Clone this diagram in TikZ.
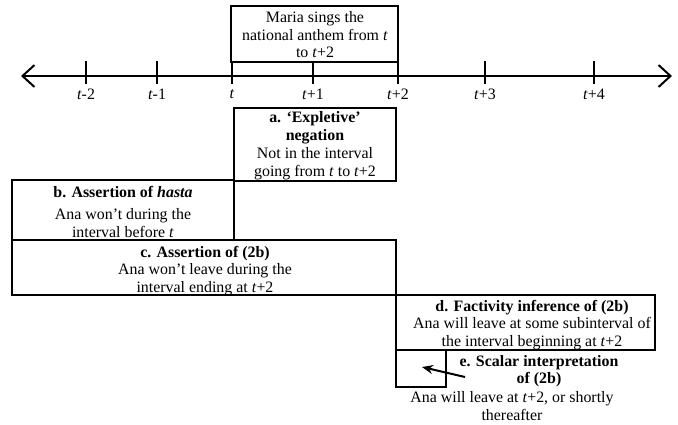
\documentclass[tikz,border=0pt]{standalone}
\usepackage{fontspec}
\setmainfont{Liberation Serif}
\usetikzlibrary{arrows.meta}
\begin{document}
\begin{tikzpicture}[x=1pt,y=-1pt,
  box/.style={draw, line width=1.2pt, inner sep=0pt, outer sep=0pt, anchor=north west},
  txt/.style={inner sep=0pt, align=center, font=\fontsize{15.9}{17.5}\selectfont},
  tick/.style={line width=1.3pt},
  lab/.style={inner sep=0pt, font=\fontsize{15.9}{17.5}\selectfont},
  axis/.style={line width=2pt, {Straight Barb[length=12pt,width=22pt,line width=2pt]}-{Straight Barb[length=12pt,width=22pt,line width=2pt]}}]
\useasboundingbox (0,0) rectangle (678,424);
% timeline
\coordinate (L) at (21,76);
\coordinate (R) at (672,76);
\draw[axis] (L) -- (R);
\foreach \n/\x/\l in {m2/86/{-2}, m1/157/{-1}, z/232/{}, p1/313/{+1}, p2/398/{+2}, p3/485/{+3}, p4/594/{+4}}{
  \coordinate (tt\n) at (\x,61);
  \coordinate (tb\n) at (\x,84);
  \draw[tick] (tt\n) -- (tb\n);
  \node[lab] (lab\n) at (\x,94) {\textit{t}\l};
}
% top box
\node[box, minimum width=167pt, minimum height=56pt] (top) at (231,6) {};
\node[txt] (toptext) at (315,35) {Maria sings the\\national anthem from \textit{t}\\to \textit{t}+2};
% box a
\node[box, minimum width=162pt, minimum height=73pt] (a) at (234,108) {};
\node[txt, font=\fontsize{15.9}{18}\selectfont] (atext) at (315,146) {\textbf{a. ‘Expletive’}\\\textbf{negation}\\Not in the interval\\going from \textit{t} to \textit{t}+2};
% box b
\node[box, minimum width=222pt, minimum height=60pt] (b) at (12,180) {};
\node[txt] (btitle) at (123,192) {\textbf{b. Assertion of \textit{hasta}}};
\node[txt] (btext) at (123,223) {Ana won’t during the\\interval before \textit{t}};
% box c
\node[box, minimum width=384pt, minimum height=55pt] (c) at (12,240) {};
\node[txt] (ctext) at (205,271) {\textbf{c. Assertion of (2b)}\\Ana won’t leave during the\\interval ending at \textit{t}+2};
% box d
\node[box, minimum width=259pt, minimum height=55pt] (d) at (396,295) {};
\node[txt] (dtext) at (532,325) {\textbf{d. Factivity inference of (2b)}\\Ana will leave at some subinterval of\\the interval beginning at \textit{t}+2};
% box e
\node[box, minimum width=50pt, minimum height=37pt] (e) at (396,350) {};
\node[txt] (etitle) at (539,371) {\textbf{e. Scalar interpretation}\\\textbf{of (2b)}};
\node[txt] (etext) at (512,406) {Ana will leave at \textit{t}+2, or shortly\\thereafter};
\coordinate (as) at (465,377);
\coordinate (ae) at (422,367);
\draw[line width=2pt, -{Stealth[length=11pt,width=9pt]}] (as) -- (ae);
\end{tikzpicture}
\end{document}
